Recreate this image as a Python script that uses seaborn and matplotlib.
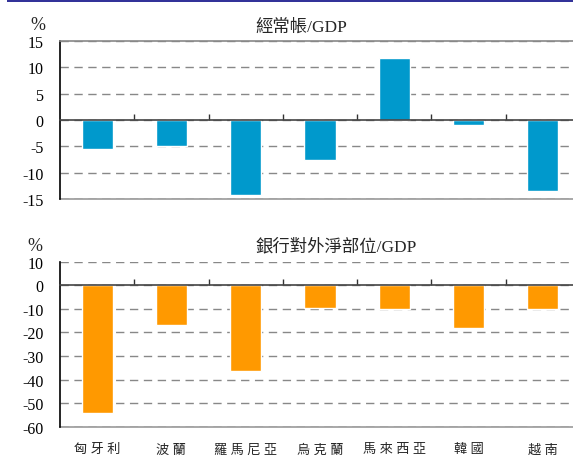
import numpy as np
import pandas as pd
import matplotlib
matplotlib.use("Agg")
import matplotlib.pyplot as plt
import seaborn as sns
from matplotlib.patches import Rectangle

# data
countries = ["匈牙利", "波蘭", "羅馬尼亞", "烏克蘭", "馬來西亞", "韓國", "越南"]
current_account = [-5.5, -4.9, -14.3, -7.5, 11.8, -0.9, -13.5]
bank_net_position = [-54, -17, -36.5, -9.5, -10, -18, -10]
ca_ticks = [15, 10, 5, 0, -5, -10, -15]
bank_ticks = [10, 0, -10, -20, -30, -40, -50, -60]

sns.set_theme(style="white")
plt.rcParams["font.family"] = ["Liberation Serif", "Noto Sans CJK TC"]
plt.rcParams["axes.unicode_minus"] = False

df = pd.DataFrame({"country": countries, "ca": current_account, "bank": bank_net_position})

W, H = 573, 456
fig = plt.figure(figsize=(W / 100, H / 100), dpi=100)
fig.patch.set_facecolor("white")
ax1 = fig.add_axes([60 / W, 1 - 200 / H, 520 / W, 158 / H])
ax2 = fig.add_axes([60 / W, 1 - 427.7 / H, 520 / W, 165 / H])


def draw_panel(ax, col, color, yticks, show_labels, top_solid):
    sns.barplot(data=df, x="country", y=col, color=color, width=0.42,
                saturation=1, ax=ax)
    ax.set_xlim(-0.5, 6.5)
    ax.set_ylim(min(yticks), max(yticks))
    ax.set_yticks(yticks)
    ax.set_xlabel("")
    ax.set_ylabel("")
    ax.set_axisbelow(True)
    ax.yaxis.grid(True, linestyle=(0, (6, 4)), color="#888888", linewidth=1)
    ax.xaxis.grid(False)
    ax.tick_params(axis="y", length=0, pad=12, labelsize=11.5, labelcolor="black")

    # zero line with category boundary ticks pointing up
    ax.spines["bottom"].set_position(("data", 0))
    ax.spines["bottom"].set_color("#444444")
    ax.spines["bottom"].set_linewidth(1.2)
    ax.set_xticks(np.arange(0.5, 6, 1))
    ax.tick_params(axis="x", direction="in", length=4, width=1, color="#333333",
                   labelbottom=False, bottom=True)

    ax.spines["left"].set_color("black")
    ax.spines["left"].set_linewidth(1.2)
    ax.spines["right"].set_visible(False)
    if top_solid:
        ax.spines["top"].set_color("#888888")
        ax.spines["top"].set_linewidth(1.2)
    else:
        ax.spines["top"].set_visible(False)

    sec = ax.secondary_xaxis("bottom")
    sec.spines["bottom"].set_color("#999999")
    sec.spines["bottom"].set_linewidth(1.2)
    if show_labels:
        sec.set_xticks(range(len(countries)), labels=[" ".join(c) for c in countries])
    else:
        sec.set_xticks([])
    sec.tick_params(length=0, pad=12, labelsize=9.5)


draw_panel(ax1, "ca", "#0099CC", ca_ticks, False, True)
draw_panel(ax2, "bank", "#FF9900", bank_ticks, True, False)

fig.text(255 / W, 1 - 28 / H, "經常帳/GDP", ha="left", va="center", fontsize=12.5)
fig.text(255 / W, 1 - 247 / H, "銀行對外淨部位/GDP", ha="left", va="center", fontsize=12.5)
fig.text(38 / W, 1 - 25 / H, "%", ha="center", va="center", fontsize=13)
fig.text(35 / W, 1 - 247 / H, "%", ha="center", va="center", fontsize=13)

# dark blue band at the top edge
fig.add_artist(Rectangle((7 / W, 1 - 3 / H), 1, 3 / H, transform=fig.transFigure,
                         color="#333399", linewidth=0))

fig.savefig("out.png", dpi=100)
